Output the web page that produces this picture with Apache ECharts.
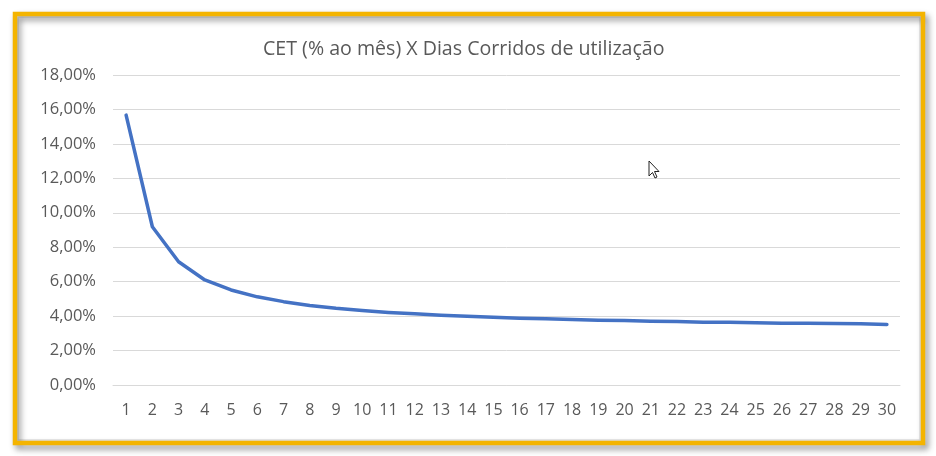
<!DOCTYPE html>
<html>
<head>
<meta charset="utf-8">
<script src="https://cdn.jsdelivr.net/npm/echarts@6/dist/echarts.min.js"></script>
<style>
  html, body { margin: 0; padding: 0; background: #fff; }
  #cet { width: 936px; height: 456px; }
</style>
</head>
<body>
<div id="cet"></div>
<script>
// dias corridos de utilização
var dias = [];
for (var d = 1; d <= 30; d++) dias.push(String(d));
// CET em % ao mês
var cet = [15.67, 9.19, 7.16, 6.10, 5.52, 5.12, 4.84, 4.62, 4.45, 4.32,
           4.21, 4.13, 4.05, 3.99, 3.93, 3.88, 3.85, 3.80, 3.76, 3.74,
           3.70, 3.68, 3.65, 3.64, 3.62, 3.59, 3.58, 3.57, 3.56, 3.51];
var yTicks = { min: 0, max: 18, step: 2 };

var fonte = "Open Sans, Noto Sans, sans-serif";
var chart = echarts.init(document.getElementById("cet"));
chart.setOption({
  animation: false,
  backgroundColor: "#fff",
  title: {
    text: "CET (% ao mês) X Dias Corridos de utilização",
    left: 258,
    top: 34,
    textStyle: { fontFamily: fonte, fontSize: 19.6, fontWeight: "normal", color: "#595959" }
  },
  grid: { left: 113, right: 36, top: 75, bottom: 71 },
  xAxis: {
    type: "category",
    data: dias,
    boundaryGap: true,
    axisLine: { lineStyle: { color: "#d9d9d9" } },
    axisTick: { show: false },
    axisLabel: { fontFamily: fonte, fontSize: 16, color: "#595959", margin: 17, interval: 0 }
  },
  yAxis: {
    type: "value",
    min: yTicks.min,
    max: yTicks.max,
    interval: yTicks.step,
    axisLine: { show: false },
    axisTick: { show: false },
    splitLine: { lineStyle: { color: "#d9d9d9" } },
    axisLabel: {
      fontFamily: fonte, fontSize: 16.5, color: "#595959", margin: 17,
      formatter: function (v) { return v.toFixed(2).replace(".", ",") + "%"; }
    }
  },
  series: [{
    type: "line",
    data: cet,
    symbol: "none",
    lineStyle: { color: "#4472C4", width: 3.5, cap: "round", join: "round" }
  }],
  graphic: [
    {
      // moldura dourada
      type: "rect",
      shape: { x: 15, y: 14, width: 908, height: 429 },
      style: {
        fill: "none", stroke: "#F4B400", lineWidth: 4.5,
        shadowBlur: 6, shadowOffsetX: 3, shadowOffsetY: 4, shadowColor: "rgba(0,0,0,0.45)"
      },
      z: 10
    },
    {
      // sombra interna
      type: "rect",
      shape: { x: 18, y: 17, width: 902, height: 423 },
      style: { fill: "none", stroke: "rgba(0,0,0,0.12)", lineWidth: 1.5 },
      z: 9
    },
    {
      // cursor do mouse
      type: "polygon",
      shape: { points: [[649, 161], [649, 176], [652.5, 172.5], [655, 178], [657, 177], [654.5, 171.5], [659, 171.5]] },
      style: { fill: "#fff", stroke: "#222", lineWidth: 1 },
      z: 20
    }
  ]
});
</script>
</body>
</html>
